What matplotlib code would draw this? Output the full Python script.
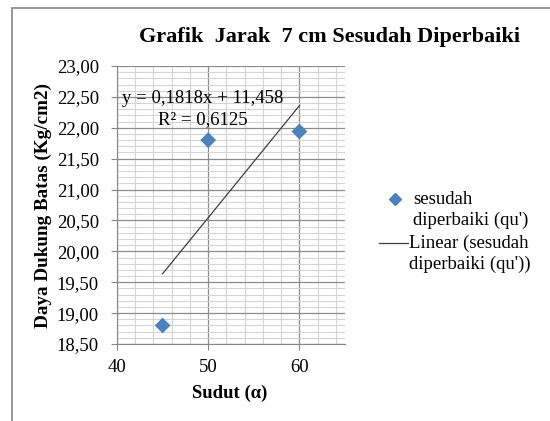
import matplotlib.pyplot as plt
from matplotlib.patches import Rectangle
from matplotlib.lines import Line2D
from matplotlib.ticker import MultipleLocator, FuncFormatter
import numpy as np

# data
sudut = [45, 50, 60]
qu = [18.80, 21.80, 21.94]
eq_text = "y = 0,1818x + 11,458"
r2_text = "R\u00b2 = 0,6125"
legend_labels = ["sesudah\ndiperbaiki (qu')", "Linear (sesudah\ndiperbaiki (qu'))"]

plt.rcParams['font.family'] = ['Liberation Serif', 'DejaVu Serif']

fig = plt.figure(figsize=(5.5, 4.21), dpi=100)
# outer chart border (Excel chart area)
fig.patches.append(Rectangle((12 / 550, -0.05), 1.1, 1 - 8 / 421 + 0.05,
                             transform=fig.transFigure, fill=False,
                             edgecolor='#868686', linewidth=1.2))

ax = fig.add_axes([117 / 550, 1 - 344 / 421, (345 - 117) / 550, (344 - 66) / 421])

# linear trendline
k, b = np.polyfit(sudut, qu, 1)
xs = np.array([min(sudut), max(sudut)])
ax.plot(xs, k * xs + b, color='#404040', linewidth=0.9, zorder=3)
ax.scatter(sudut, qu, marker='D', s=65, color='#4F81BD', zorder=4,
           edgecolors='none')

ax.set_xlim(40, 65)
ax.set_ylim(18.5, 23.0)
ax.xaxis.set_major_locator(MultipleLocator(10))
ax.xaxis.set_minor_locator(MultipleLocator(2))
ax.yaxis.set_major_locator(MultipleLocator(0.5))
ax.yaxis.set_minor_locator(MultipleLocator(0.1))
ax.yaxis.set_major_formatter(FuncFormatter(lambda v, p: f"{v:.2f}".replace('.', ',')))
ax.xaxis.set_major_formatter(FuncFormatter(lambda v, p: f"{v:.0f}" if v <= 60 else ""))

ax.grid(which='major', color='#8c8c8c', linewidth=0.9)
ax.grid(which='minor', color='#d4d4d4', linewidth=0.8)
ax.set_axisbelow(True)
for side in ['top', 'right']:
    ax.spines[side].set_visible(False)
for side in ['left', 'bottom']:
    ax.spines[side].set_color('#868686')
ax.tick_params(which='major', length=4, color='#868686', labelsize=13.5,
               labelcolor='#000000')
ax.tick_params(axis='y', pad=9)
ax.tick_params(axis='x', pad=7)
ax.tick_params(which='minor', length=0)

ax.text(40.55, 22.47, eq_text, fontsize=13.5, va='center', ha='left')
ax.text(44.5, 22.14, r2_text, fontsize=13.5, va='center', ha='left')

fig.text(330 / 550, 1 - 37 / 421, 'Grafik  Jarak  7 cm Sesudah Diperbaiki',
         fontsize=16, fontweight='bold', ha='center', va='center')
fig.text(230 / 550, 1 - 393 / 421, 'Sudut (\u03b1)', fontsize=13.5,
         fontweight='bold', ha='center', va='center')
fig.text(43 / 550, 1 - 205 / 421, 'Daya Dukung Batas (Kg/cm2)', fontsize=13.8,
         fontweight='bold', ha='center', va='center', rotation=90)

# legend, Excel style: symbol aligned with first text line
fig.add_artist(Line2D([395 / 550], [1 - 199 / 421], marker='D', linestyle='none',
                      color='#4F81BD', markersize=6, transform=fig.transFigure))
fig.add_artist(Line2D([379 / 550, 408 / 550], [1 - 243 / 421, 1 - 243 / 421],
                      color='#404040', linewidth=0.9, transform=fig.transFigure))
fig.text(413 / 550, 1 - 210 / 421, legend_labels[0], fontsize=13.5,
         ha='left', va='center', linespacing=1.25)
fig.text(409 / 550, 1 - 254 / 421, legend_labels[1], fontsize=13.5,
         ha='left', va='center', linespacing=1.25)

fig.savefig('out.png', dpi=100)
